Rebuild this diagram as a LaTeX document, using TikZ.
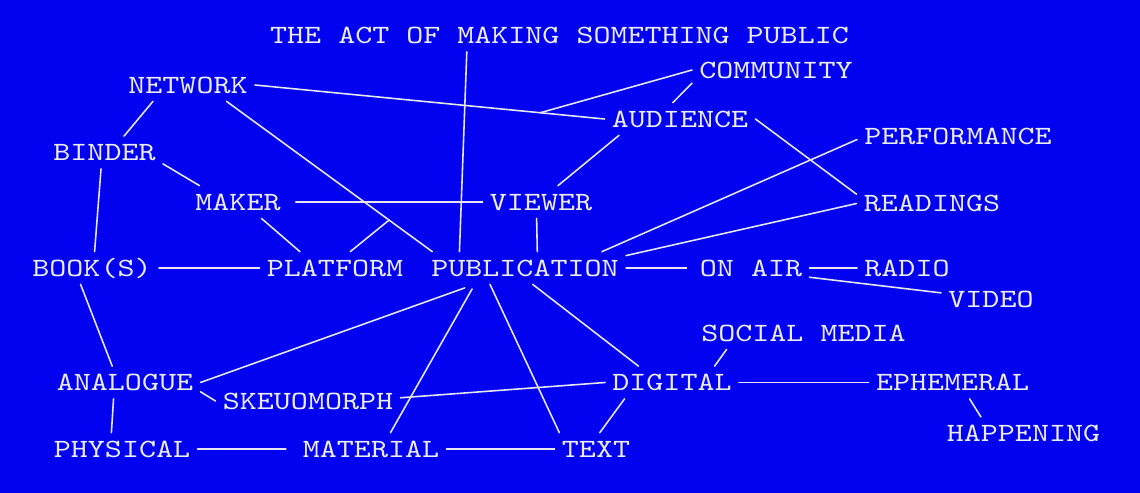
\documentclass[tikz,border=0pt]{standalone}
\usepackage{fontspec}
\usepackage{xcolor}
\usepackage{tikz}
\usetikzlibrary{calc}
\newfontfamily\typew[FakeStretch=1.23]{lmmono10-regular.otf}
\definecolor{bg}{HTML}{0202F0}
\definecolor{fg}{HTML}{ECECF4}
\definecolor{wire}{HTML}{E6E6F2}
\tikzset{
  word/.style={text=fg, font=\fontsize{15}{18}\selectfont\typew, inner xsep=4pt, inner ysep=4.5pt, text height=9.2pt, text depth=0pt},
  link/.style={draw=wire, line width=0.9pt, line cap=round, line join=round}
}

\begin{document}
\begin{tikzpicture}[x=0.02cm,y=-0.02cm]
  \fill[bg] (0,0) rectangle (1140,493);
  \useasboundingbox (0,0) rectangle (1140,493);
  % words
  \node[word] (title) at (559.5,35.5) {THE ACT OF MAKING SOMETHING PUBLIC};
  \node[word] (network) at (188,85) {NETWORK};
  \node[word] (community) at (776,70) {COMMUNITY};
  \node[word] (audience) at (680,119) {AUDIENCE};
  \node[word] (performance) at (958,136) {PERFORMANCE};
  \node[word] (binder) at (104.5,152.5) {BINDER};
  \node[word] (maker) at (238,202) {MAKER};
  \node[word] (viewer) at (541,202) {VIEWER};
  \node[word] (readings) at (932,203.5) {READINGS};
  \node[word] (books) at (92,268) {BOOK(S)};
  \node[word] (platform) at (335,268) {PLATFORM};
  \node[word] (publication) at (525,268) {PUBLICATION};
  \node[word] (onair) at (751,268) {ON AIR};
  \node[word] (radio) at (907,268) {RADIO};
  \node[word] (video) at (991,299) {VIDEO};
  \node[word] (social) at (803.5,333) {SOCIAL MEDIA};
  \node[word] (analogue) at (125,382.5) {ANALOGUE};
  \node[word] (skeuo) at (308,401) {SKEUOMORPH};
  \node[word] (digital) at (672,382.5) {DIGITAL};
  \node[word] (ephemeral) at (952.6,382.5) {EPHEMERAL};
  \node[word] (happening) at (1023.5,433.3) {HAPPENING};
  \node[word] (physical) at (122,449) {PHYSICAL};
  \node[word] (material) at (371,449) {MATERIAL};
  \node[word] (txt) at (596,449) {TEXT};
  % branch points
  \coordinate (j1) at ($(network.east)!0.816!(audience.west)$);
  \coordinate (j2) at ($(network.337.1)!0.79!(publication.170.6)$);
  % links, top half
  \draw[link] (network.east) -- (audience.west);
  \draw[link] (j1) -- (community.west);
  \draw[link] (network.205.5) -- (binder.40.7);
  \draw[link] (network.337.1) -- (publication.170.6);
  \draw[link] (j2) -- (platform.47);
  \draw[link] (binder.349.6) -- (maker.157.8);
  \draw[link] (binder.258) -- (books.81.8);
  \draw[link, shorten <=4.5pt] (maker.east) -- (viewer.west);
  \draw[link] (maker.325.2) -- (platform.155.1);
  \draw[link] (title.190.3) -- (publication.166);
  \draw[link] (viewer.255) -- (publication.53.8);
  \draw[link] (viewer.44.1) -- (audience.195.5);
  \draw[link] (audience.114.2) -- (community.189.5);
  \draw[link] (audience.east) -- (readings.173.5);
  \draw[link] (performance.182.2) -- (publication.12.1);
  \draw[link] (readings.west) -- (publication.7.1);
  % links, middle row
  \draw[link] (books.east) -- (platform.west);
  \draw[link, shorten >=3.4pt] (publication.east) -- (onair.west);
  \draw[link] (onair.east) -- (radio.west);
  \draw[link] (onair.351.1) -- (video.173.8);
  % links, bottom half
  \draw[link] (books.235.5) -- (analogue.128.7);
  \draw[link, shorten <=6pt] (publication.198.3) -- (analogue.east);
  \draw[link] (analogue.353.8) -- (skeuo.west);
  \draw[link] (skeuo.2.2) -- (digital.west);
  \draw[link, shorten <=3pt] (publication.198.4) -- (material.40);
  \draw[link] (publication.205.5) -- (txt.156.1);
  \draw[link] (publication.295.1) -- (digital.154.4);
  \draw[link] (analogue.235) -- (physical.123);
  \draw[link, shorten >=5.5pt] (physical.east) -- (material.west);
  \draw[link] (material.east) -- (txt.west);
  \draw[link] (digital.199.4) -- (txt.77.3);
  \draw[link] (digital.21.4) -- (social.192.5);
  \draw[link] (digital.east) -- (ephemeral.west);
  \draw[link] (ephemeral.316.4) -- (happening.159.5);
\end{tikzpicture}
\end{document}
